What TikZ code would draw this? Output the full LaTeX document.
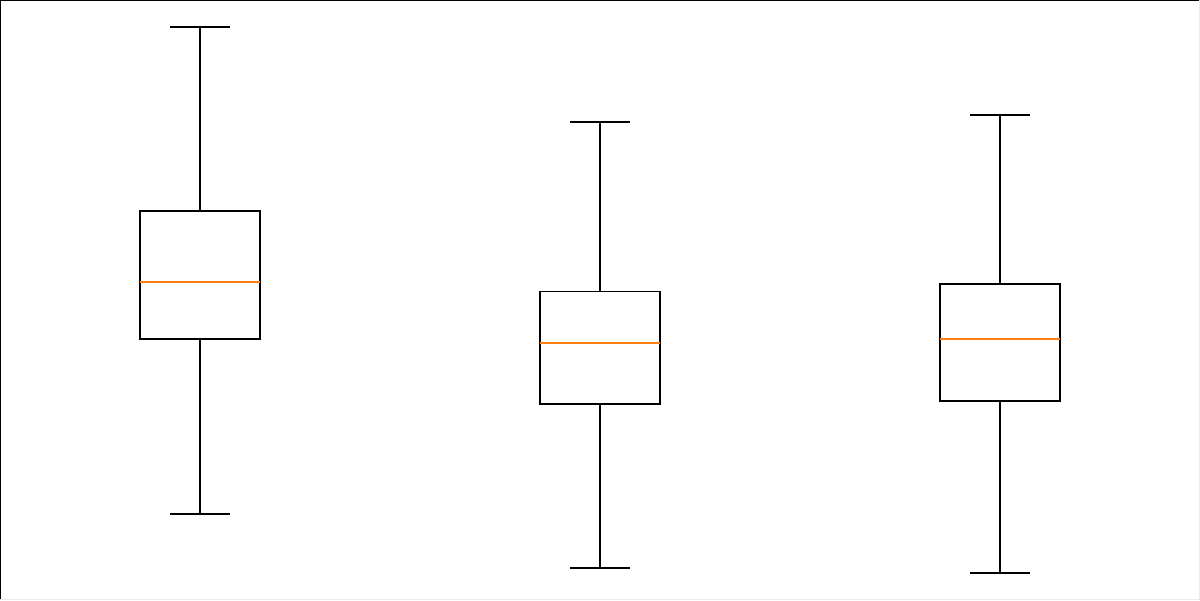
\documentclass[tikz,border=0pt]{standalone}
\usepackage{tikz}
\usetikzlibrary{calc}
\definecolor{medorange}{HTML}{FF7F0E}

\begin{document}
\begin{tikzpicture}[x=0.025cm,y=-0.025cm,line width=1pt]
        \useasboundingbox (0,0) rectangle (1200,600);
        \fill[white] (0,0) rectangle (1200,600);

        % frame
        \draw[black!8] (1199.4,0) -- (1199.4,599.4) -- (0,599.4);
        \draw (0.6,599.4) coordinate(bl) -- (0.6,0.6) coordinate(tl) -- (1199.4,0.6) coordinate(tr);

        \def\half{60}
        \def\cap{30}

        % centre / top whisker / upper quartile / median / lower quartile / bottom whisker
        \foreach \x/\hi/\qa/\med/\qb/\lo in {200/27/211/282/339/514, 600/122/291.5/343/404/568, 1000/115/284/339/401/573}
        {
            \draw (\x-\cap,\hi) -- (\x+\cap,\hi);
            \draw (\x,\hi) -- (\x,\qa);
            \draw (\x-\half,\qa) rectangle (\x+\half,\qb);
            \draw[medorange] (\x-\half,\med) -- (\x+\half,\med);
            \draw (\x,\qb) -- (\x,\lo);
            \draw (\x-\cap,\lo) -- (\x+\cap,\lo);
        }
    \end{tikzpicture}
\end{document}
